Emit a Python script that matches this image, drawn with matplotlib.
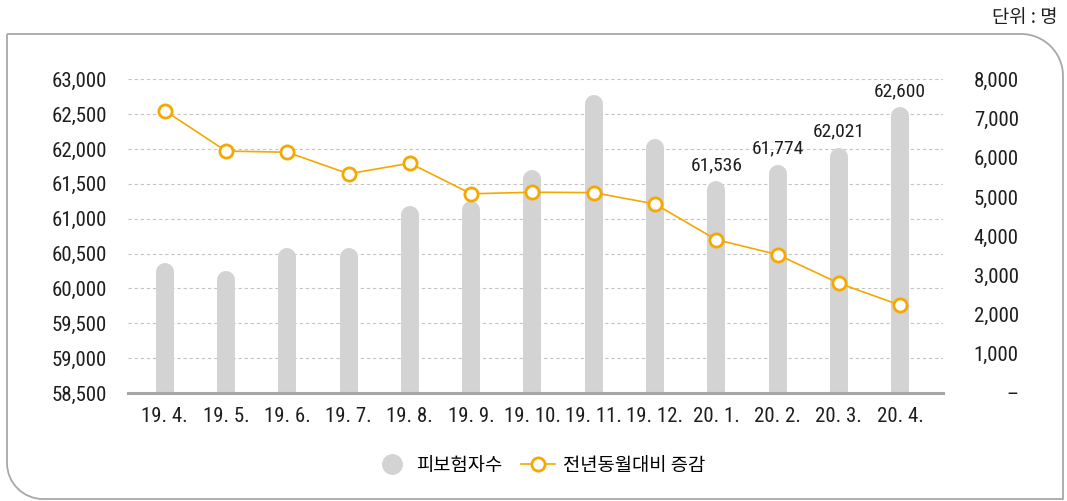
import matplotlib
matplotlib.use("Agg")
import matplotlib.pyplot as plt
from matplotlib.path import Path
from matplotlib.patches import PathPatch
from matplotlib.lines import Line2D
from matplotlib.ticker import FuncFormatter
from matplotlib import font_manager

categories = ["19. 4.", "19. 5.", "19. 6.", "19. 7.", "19. 8.", "19. 9.", "19. 10.",
              "19. 11.", "19. 12.", "20. 1.", "20. 2.", "20. 3.", "20. 4."]
insured = [60360, 60250, 60580, 60580, 61180, 61250, 61700, 62770, 62150,
           61536, 61774, 62021, 62600]
yoy_change = [7200, 6170, 6140, 5590, 5860, 5080, 5120, 5110, 4820,
              3910, 3530, 2800, 2240]
labeled_idx = [9, 10, 11, 12]
left_ticks = [58500, 59000, 59500, 60000, 60500, 61000, 61500, 62000, 62500, 63000]
right_ticks = [0, 1000, 2000, 3000, 4000, 5000, 6000, 7000, 8000]
bar_name = "피보험자수"
line_name = "전년동월대비 증감"
unit_text = "단위 : 명"

available = {f.name for f in font_manager.fontManager.ttflist}
num_pref = [f for f in ["Roboto Condensed", "Archivo Narrow", "Liberation Sans Narrow"] if f in available]
NUM_FONT = num_pref[:1] + ["Liberation Sans", "Noto Sans CJK KR", "DejaVu Sans"]
KR_FONT = ["Noto Sans CJK KR", "DejaVu Sans"]
plt.rcParams["font.family"] = NUM_FONT

W, H = 1067, 501
fig = plt.figure(figsize=(W / 100, H / 100), dpi=100)
ax = fig.add_axes([128 / W, 1 - 393 / H, (943 - 128) / W, (393 - 79.3) / H])
ax2 = ax.twinx()

x = list(range(len(categories)))
ax.set_xlim(-0.6, len(categories) - 0.3)
ax.set_ylim(left_ticks[0], left_ticks[-1])
ax2.set_ylim(right_ticks[0], right_ticks[-1])

bar_color = "#d3d3d3"
line_color = "#f5a800"
text_color = "#1e1e1e"

# rounded-top bars: cap radius in data units so the rounded top sits at the value
bar_lw_px = 18
px_per_unit = (393 - 79.3) / (left_ticks[-1] - left_ticks[0])
r_data = (bar_lw_px / 2) / px_per_unit
ax.vlines(x, left_ticks[0] - 500, [v - r_data for v in insured],
          colors=bar_color, linewidth=bar_lw_px * 0.72, capstyle="round", zorder=2)

# grid
for t in left_ticks[1:]:
    ax.axhline(t, color="#c4c4c4", linewidth=0.8, linestyle=(0, (3, 2.5)), zorder=1)
ax.axhline(left_ticks[0], color="#a6a6a6", linewidth=2.2, zorder=3, clip_on=False)

ax2.plot(x, yoy_change, color=line_color, linewidth=1.2, marker="o", markersize=9.5,
         markerfacecolor="white", markeredgecolor=line_color, markeredgewidth=2, zorder=5)

for i in labeled_idx:
    ax.annotate(f"{insured[i]:,}", (x[i], insured[i]), xytext=(0, 5), textcoords="offset points",
                ha="center", va="bottom", fontsize=14, color=text_color)

for a in (ax, ax2):
    for s in a.spines.values():
        s.set_visible(False)
    a.tick_params(length=0)
ax.set_zorder(1)
ax.patch.set_visible(False)
ax2.set_zorder(2)

ax.set_xticks(x)
ax.set_xticklabels(categories, fontsize=15, color=text_color)
ax.tick_params(axis="x", pad=10)
ax.set_yticks(left_ticks)
ax.yaxis.set_major_formatter(FuncFormatter(lambda v, p: f"{int(v):,}"))
ax.tick_params(axis="y", labelsize=15, labelcolor=text_color, pad=15)

ax2.set_yticks(right_ticks)
ax2.yaxis.set_major_formatter(FuncFormatter(lambda v, p: "–" if v == 0 else f"{int(v):,}"))
ax2.tick_params(axis="y", labelsize=15, labelcolor=text_color, pad=54.5)
for lbl in ax2.get_yticklabels():
    lbl.set_horizontalalignment("right")

# legend
handles = [Line2D([], [], linestyle="none", marker="o", markersize=14, markerfacecolor=bar_color,
                  markeredgecolor=bar_color),
           Line2D([], [], color=line_color, linewidth=1.2, marker="o", markersize=9.5,
                  markerfacecolor="white", markeredgecolor=line_color, markeredgewidth=2)]
fig.legend(handles, [bar_name, line_name], loc="center", bbox_to_anchor=(540 / W, 1 - 465 / H),
           ncol=2, frameon=False, prop={"family": KR_FONT, "size": 13.5},
           handlelength=1.8, handletextpad=0.4, columnspacing=1.0)

fig.text(1057 / W, 1 - 17 / H, unit_text, ha="right", va="center", fontsize=13.5,
         family=KR_FONT, color=text_color)

# rounded frame (figure pixel coordinates)
def P(px, py):
    return (px / W, 1 - py / H)

k = 0.5523
R1 = 42
R2 = 36
L, T, Rx, B = 7, 34, 1063, 499
verts = [P(L, T), P(Rx - R1, T),
         P(Rx - R1 + k * R1, T), P(Rx, T + R1 - k * R1), P(Rx, T + R1),
         P(Rx, B), P(L + R2, B),
         P(L + R2 - k * R2, B), P(L, B - R2 + k * R2), P(L, B - R2),
         P(L, T)]
codes = [Path.MOVETO, Path.LINETO,
         Path.CURVE4, Path.CURVE4, Path.CURVE4,
         Path.LINETO, Path.LINETO,
         Path.CURVE4, Path.CURVE4, Path.CURVE4,
         Path.LINETO]
fig.patches.append(PathPatch(Path(verts, codes), transform=fig.transFigure, facecolor="none",
                             edgecolor="#a8a8a8", linewidth=1.3))

fig.savefig("out.png", dpi=100)
